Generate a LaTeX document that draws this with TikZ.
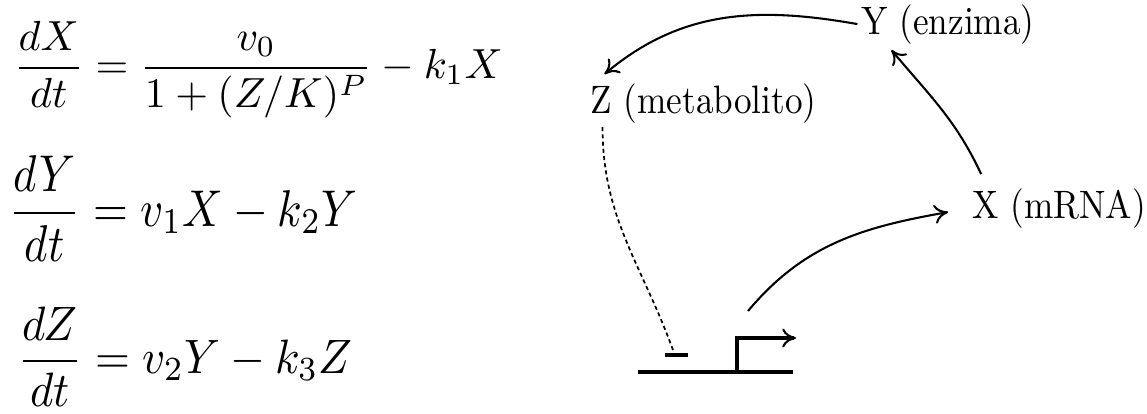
\documentclass[tikz,border=0pt]{standalone}
\usepackage{amsmath}
\usepackage{graphicx}
\usetikzlibrary{arrows.meta,positioning}

\newcommand{\spname}[1]{\scalebox{1.02}[1.15]{#1}}

\begin{document}
\begin{tikzpicture}[
  x=0.29pt, y=-0.29pt,
  eq/.style={inner sep=0pt, anchor=base west},
  species/.style={inner sep=1pt, anchor=base},
  act/.style={-{To[line width=0.6pt, length=4pt, width=5.5pt]}, line width=0.6pt},
  inhib/.style={line width=0.5pt, dash pattern=on 1.2pt off 0.9pt},
  dna/.style={line width=0.9pt}
]
\useasboundingbox (0,0) rectangle (1147,413);

% model equations
\node[eq] (eqX) at (13,78.5)
  {\scalebox{1.22}{$\displaystyle \frac{dX}{dt} = \frac{v_0}{1+(Z/K)^P} - k_1X$}};
\node[eq] (eqY) at (7.6,226)
  {\scalebox{1.3}[1.5]{$\displaystyle \frac{dY}{dt} = v_1X - k_2Y$}};
\node[eq] (eqZ) at (16.6,373)
  {\scalebox{1.3}[1.4]{$\displaystyle \frac{dZ}{dt} = v_2Y - k_3Z$}};

% species
\node[species] (Y) at (948,34) {\spname{Y (enzima)}};
\node[species] (Z) at (703.5,113) {\spname{Z (metabolito)}};
\node[species] (X) at (1059,218) {\spname{X (mRNA)}};

% gene with promoter
\coordinate (geneL) at (638,372);
\coordinate (geneR) at (793,372);
\coordinate (prom) at (737,372);
\coordinate (tss) at (748,311);
\coordinate (rep) at (676,355);
\draw[dna] (geneL) -- (geneR);
\draw[dna, -{To[line width=0.6pt, length=4pt, width=5.5pt]}] (prom) |- (796,338);
\draw[dna] (665,355) -- (688,355);

\draw[act] (tss) to[out=50, in=190] ([shift={(-20,4)}]X.west);
\draw[act] ([shift={(13,-10)}]X.north west) to[out=115, in=-50] ([shift={(34,2)}]Y.south west);
\draw[act] (Y.west) to[out=170, in=40] ([shift={(18,-5)}]Z.north west);
\draw[inhib] ([shift={(16,0)}]Z.south west) to[out=-90, in=110] ([shift={(-3,-5)}]rep);

\end{tikzpicture}
\end{document}
